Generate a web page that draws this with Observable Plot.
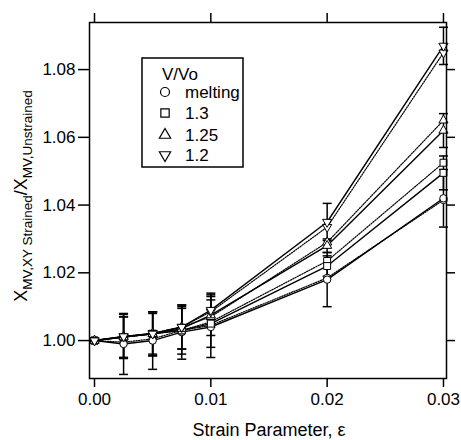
<!DOCTYPE html>
<html><head><meta charset="utf-8">
<script src="https://cdn.jsdelivr.net/npm/d3@7"></script>
<script src="https://cdn.jsdelivr.net/npm/@observablehq/plot@0.6"></script>
<style>
body{margin:0;background:#fff;}
#chart{position:relative;width:461px;height:440px;}
</style>
</head><body><div id="chart"></div>
<script>
// ---- data ----
const strain = [0, 0.0025, 0.005, 0.0075, 0.01, 0.02, 0.03];
const seriesNames = ["melting", "1.3", "1.25", "1.2"];
const legendTitle = "V/Vo";
// solid-line set (with error bars)
const solidMelting = [1.000, 0.999, 1.000, 1.0025, 1.004, 1.018, 1.042];
const solid13      = [1.000, 1.001, 1.002, 1.003, 1.005, 1.022, 1.0495];
const solid125     = [1.000, 1.001, 1.002, 1.0035, 1.0075, 1.028, 1.062];
const solid12      = [1.000, 1.0012, 1.002, 1.004, 1.009, 1.035, 1.087];
// dotted-line set
const dotMelting   = [1.000, 0.9995, 1.0005, 1.003, 1.0045, 1.0185, 1.0415];
const dot13        = [1.000, 1.001, 1.002, 1.003, 1.0055, 1.0235, 1.0525];
const dot125       = [1.000, 1.0012, 1.002, 1.004, 1.007, 1.029, 1.065];
const dot12        = [1.000, 1.0012, 1.0022, 1.004, 1.0085, 1.0335, 1.085];
// error half-widths for the solid set
const errMelting = [0.0005, 0.009, 0.0085, 0.008, 0.009, 0.008, 0.0085];
const err13      = [0.0005, 0.006, 0.006, 0.007, 0.007, 0.003, 0.005];
const err125     = [0.0005, 0.006, 0.0065, 0.006, 0.006, 0.002, 0.005];
const err12      = [0.0005, 0.0065, 0.0065, 0.0065, 0.005, 0.0055, 0.0055];
const xTicks = [0, 0.01, 0.02, 0.03];
const yTicks = [1.00, 1.02, 1.04, 1.06, 1.08];
const xLabel = "Strain Parameter, ε";

// ---- build rows ----
const solidSets = [solidMelting, solid13, solid125, solid12];
const dotSets = [dotMelting, dot13, dot125, dot12];
const errSets = [errMelting, err13, err125, err12];
const solidRows = [], dotRows = [], capRows = [];
seriesNames.forEach((s, i) => {
  strain.forEach((x, j) => {
    const y = solidSets[i][j], e = errSets[i][j];
    solidRows.push({x, y, series: s, lo: y - e, hi: y + e});
    capRows.push({x, y: y - e, series: s}, {x, y: y + e, series: s});
    dotRows.push({x, y: dotSets[i][j], series: s});
  });
});

// ---- symbols ----
const triDown = {draw(ctx, size) {
  const y = Math.sqrt(size / (3 * Math.sqrt(3)));
  ctx.moveTo(0, 2 * y); ctx.lineTo(-Math.sqrt(3) * y, -y); ctx.lineTo(Math.sqrt(3) * y, -y); ctx.closePath();
}};
const capSym = {draw(ctx, size) {
  const w = Math.sqrt(size / Math.PI);
  ctx.moveTo(-w, 0); ctx.lineTo(w, 0);
}};
const symbols = [d3.symbolCircle, d3.symbolSquare, d3.symbolTriangle, triDown];
const symR = [3.7, 3.9, 3.4, 3.4];

const font = "'Liberation Sans', Arial, Helvetica, sans-serif";

const dotMarks = [];
seriesNames.forEach((s, i) => {
  dotMarks.push(Plot.dot(dotRows.filter(d => d.series === s), {x: "x", y: "y", symbol: symbols[i], r: symR[i], fill: "white", stroke: "black", strokeWidth: 1}));
  dotMarks.push(Plot.dot(solidRows.filter(d => d.series === s), {x: "x", y: "y", symbol: symbols[i], r: symR[i], fill: "white", stroke: "black", strokeWidth: 1}));
});

const chart = Plot.plot({
  width: 461,
  height: 440,
  marginLeft: 89,
  marginRight: 15,
  marginTop: 22,
  marginBottom: 62,
  style: {fontFamily: font, background: "white", color: "black"},
  x: {domain: [-0.00043, 0.03026]},
  y: {domain: [0.9888, 1.0939]},
  marks: [
    Plot.axisX({ticks: xTicks, tickFormat: d3.format(".2f"), tickSize: 9, tickPadding: 5, fontSize: 17, label: null, strokeWidth: 1.5}),
    Plot.axisX({anchor: "top", ticks: xTicks, tickFormat: () => "", tickSize: 10, label: null, strokeWidth: 1.5}),
    Plot.axisY({ticks: yTicks, tickFormat: d3.format(".2f"), tickSize: 11, tickPadding: 3, fontSize: 17, label: null, strokeWidth: 1.5}),
    Plot.axisY({anchor: "right", ticks: yTicks, tickFormat: () => "", tickSize: 8, label: null, strokeWidth: 1.5}),
    Plot.ruleX(solidRows, {x: "x", y1: "lo", y2: "hi", stroke: "black", strokeWidth: 1.5}),
    Plot.dot(capRows, {x: "x", y: "y", symbol: capSym, r: 4.5, fill: "none", stroke: "black", strokeWidth: 1.5}),
    Plot.line(dotRows, {x: "x", y: "y", z: "series", stroke: "black", strokeWidth: 1.2, strokeDasharray: "1.3,1.3"}),
    Plot.line(solidRows, {x: "x", y: "y", z: "series", stroke: "black", strokeWidth: 1.4}),
    ...dotMarks,
    Plot.frame({stroke: "black", strokeWidth: 1.5})
  ]
});
document.getElementById("chart").appendChild(chart);

const svg = d3.select(chart);

// x axis title
svg.append("text")
  .attr("x", 269).attr("y", 436)
  .attr("text-anchor", "middle")
  .style("font-family", font).style("font-size", "18px")
  .text(xLabel);

// y axis title with subscripts
const yt = svg.append("text")
  .attr("transform", "translate(27,196) rotate(-90)")
  .attr("text-anchor", "middle")
  .style("font-family", font).style("font-size", "18px");
yt.append("tspan").text("X");
yt.append("tspan").attr("dy", 5).style("font-size", "13.5px").text("MV,XY Strained");
yt.append("tspan").attr("dy", -5).text("/X");
yt.append("tspan").attr("dy", 5).style("font-size", "13.5px").text("MV,Unstrained");

// legend
const lg = svg.append("g").attr("text-anchor", "start").style("font-family", font).style("font-size", "17px");
lg.append("rect").attr("x", 142).attr("y", 58).attr("width", 101).attr("height", 109)
  .attr("fill", "white").attr("stroke", "black").attr("stroke-width", 1.5);
lg.append("text").attr("x", 162).attr("y", 80).attr("text-anchor", "start").text(legendTitle);
const rowsY = [92, 113, 135, 155];
seriesNames.forEach((s, i) => {
  const r = symR[i] + 0.8;
  lg.append("path")
    .attr("transform", `translate(165,${rowsY[i]})`)
    .attr("d", d3.symbol(symbols[i], r * r * Math.PI)())
    .attr("fill", "white").attr("stroke", "black").attr("stroke-width", 1.2);
  lg.append("text").attr("x", 185).attr("y", rowsY[i] + 6).attr("text-anchor", "start").text(s);
});
</script>
</body></html>
